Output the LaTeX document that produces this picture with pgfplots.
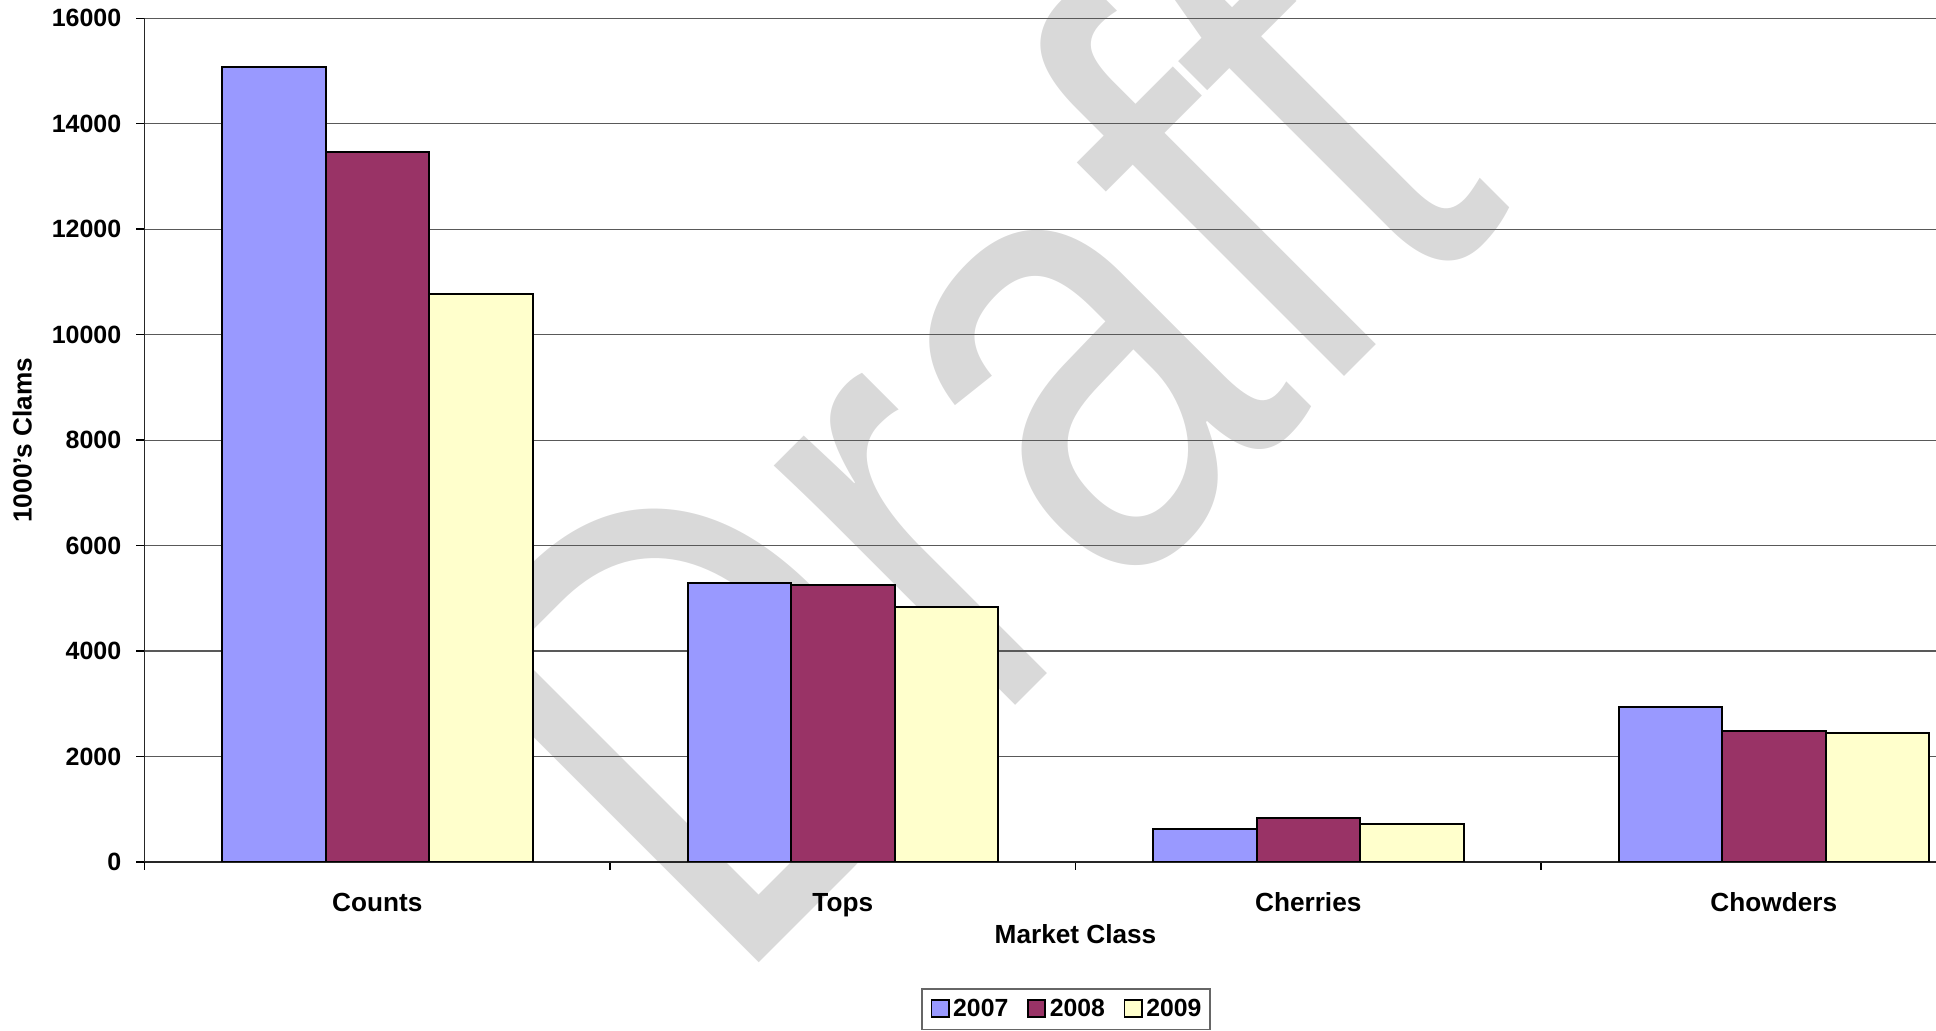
\documentclass[border=0pt]{standalone}
\usepackage{pgfplots}
\pgfplotsset{compat=1.18}
\usepackage{fontspec}
\setmainfont{Liberation Sans}

\definecolor{c2007}{HTML}{9999FF}
\definecolor{c2008}{HTML}{993366}
\definecolor{c2009}{HTML}{FFFFCC}
\definecolor{wmgray}{gray}{0.85}
\definecolor{gridgray}{gray}{0.35}

\begin{document}
\begin{tikzpicture}
% watermark behind the chart
\node[rotate=45, xscale=1.035, yscale=1.3, anchor=base west, inner sep=0pt, text=wmgray,
      font=\fontsize{247.5pt}{250pt}\selectfont] at (364.4pt,19.3pt) {Draft};
\begin{axis}[
  at={(72.25pt,84.5pt)}, anchor=south west,
  scale only axis, width=931pt, height=421.85pt,
  xmin=-0.5, xmax=3.5, ymin=0, ymax=16000,
  axis lines=left,
  axis line style={-, black!85, line width=0.75pt},
  ybar=0pt, bar width=51.75pt,
  every axis plot post/.append style={
    legend image code/.code={\draw[##1, draw=black, line width=0.8pt] (0pt,-4pt) rectangle (8.7pt,4.7pt);}},
  ymajorgrids, grid style={gridgray, line width=0.6pt},
  tick align=outside, major tick length=4pt,
  tick style={black, line width=0.75pt},
  ytick={0,2000,...,16000},
  scaled y ticks=false,
  /pgf/number format/assume math mode=true,
  /pgf/number format/set thousands separator={},
  yticklabel style={anchor=east, inner sep=0pt, xshift=-7.4pt,
    font=\fontsize{12.5pt}{14pt}\selectfont\bfseries},
  xtick={-0.5,0.5,1.5,2.5,3.5}, xticklabels={},
  extra x ticks={0,1,2,3},
  extra x tick labels={Counts,Tops,Cherries,Chowders},
  extra x tick style={major tick length=0pt, grid=none},
  xticklabel style={anchor=base, inner sep=0pt, yshift=-24.85pt,
    font=\fontsize{13.1pt}{15pt}\selectfont\bfseries},
  xlabel={Market Class},
  xlabel style={at={(axis description cs:0.5,-0.09719)}, anchor=base, inner sep=0pt,
    font=\fontsize{13.1pt}{15pt}\selectfont\bfseries},
  ylabel={1000's Clams},
  ylabel style={at={(axis description cs:-0.06058,0.5)}, anchor=base, rotate=0, inner sep=0pt,
    font=\fontsize{13.1pt}{15pt}\selectfont\bfseries},
  legend columns=3,
  legend style={at={(axis description cs:0.4171,-0.1497)}, anchor=north west,
    draw=black!60, line width=0.75pt, inner xsep=4.3pt, inner ysep=5pt,
    font=\fontsize{12.4pt}{14pt}\selectfont\bfseries,
    nodes={inner sep=0pt},
    /tikz/every odd column/.style={column sep=1.85pt},
    /tikz/every even column/.style={column sep=9.35pt}},
]
\addplot[fill=c2007, draw=black, line width=1pt] coordinates {(0,15080) (1,5300) (2,630) (3,2930)};
\addplot[fill=c2008, draw=black, line width=1pt] coordinates {(0,13470) (1,5260) (2,825) (3,2490)};
\addplot[fill=c2009, draw=black, line width=1pt] coordinates {(0,10780) (1,4830) (2,725) (3,2440)};
\legend{2007,2008,2009}
\end{axis}
\pgfresetboundingbox
\useasboundingbox (0pt,0pt) rectangle (968pt,515.5pt);
\end{tikzpicture}
\end{document}
